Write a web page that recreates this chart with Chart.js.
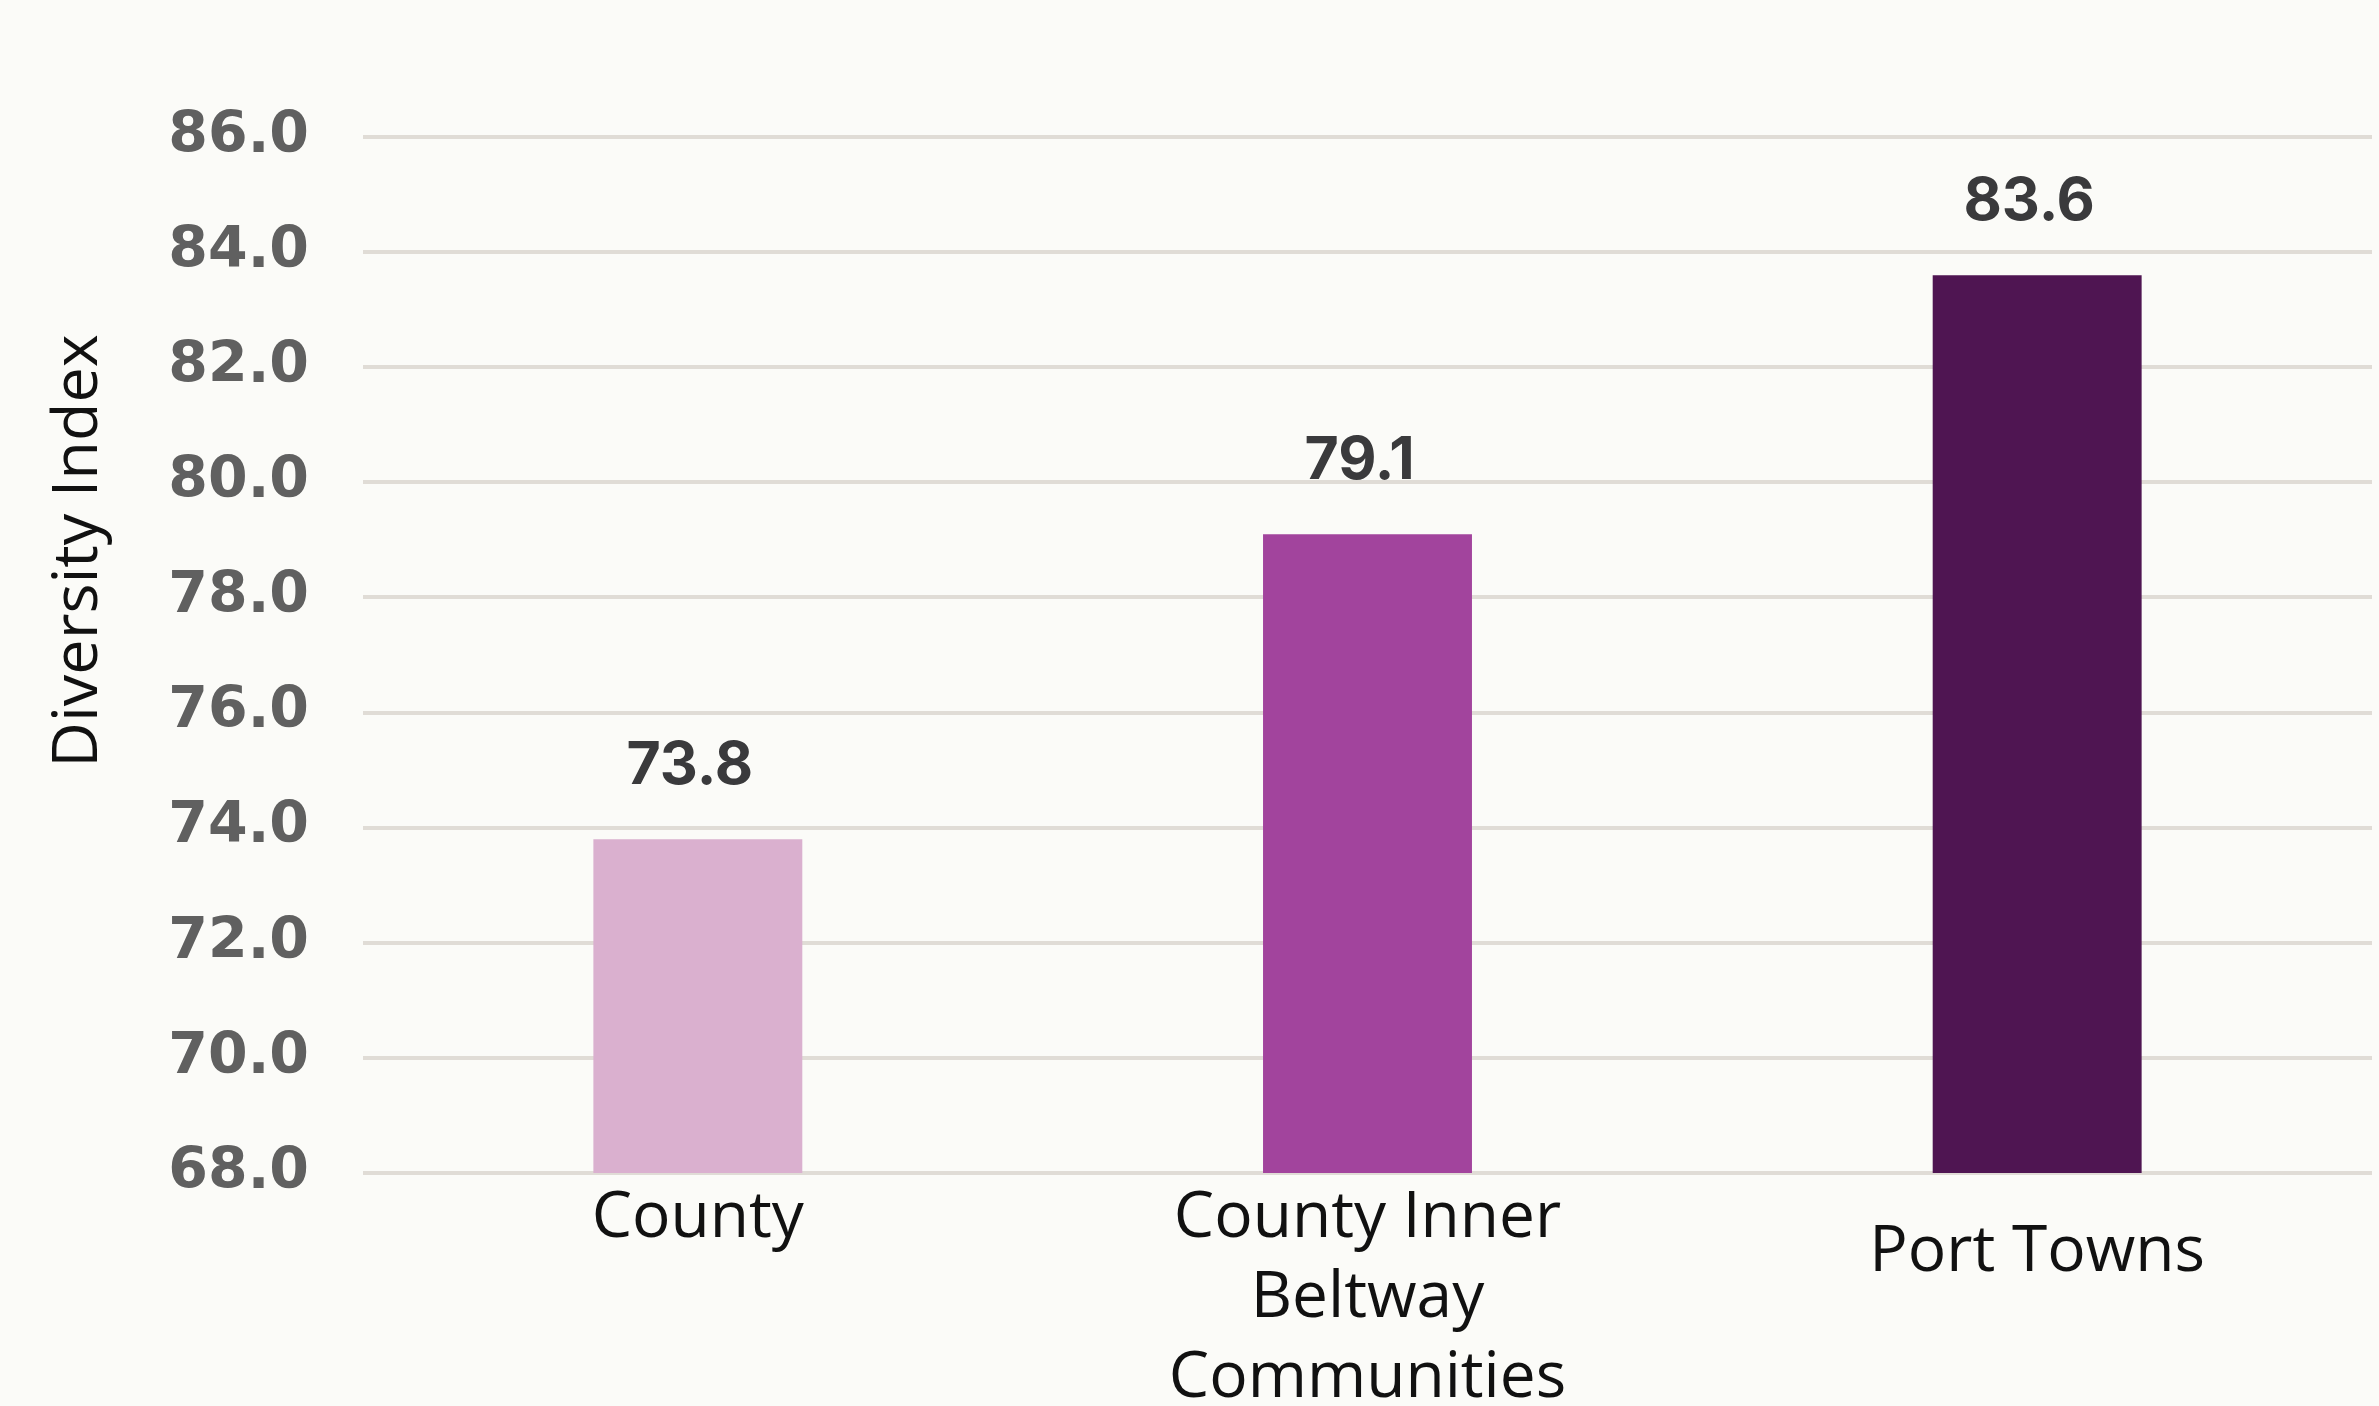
<!DOCTYPE html>
<html>
<head>
<meta charset="utf-8">
<script src="https://cdn.jsdelivr.net/npm/chart.js@4/dist/chart.umd.min.js"></script>
<style>
  html, body { margin: 0; padding: 0; background: #fbfbf8; overflow: hidden; }
  #chart { display: block; }
</style>
</head>
<body>
<canvas id="chart" width="2379" height="1406"></canvas>
<script>
// bar chart data
const categories = ["County", ["County Inner", "Beltway", "Communities"], "Port Towns"]
const diversityIndex = [73.8, 79.1, 83.6]
const barColors = ["#dab0cf", "#a2449d", "#4f1552"]

// y axis range and tick step
const yMin = 68
const yMax = 86
const yStep = 2
const yTitle = "Diversity Index"

// value labels above each bar
const valueLabels = {
    id: "valueLabels",
    afterDatasetsDraw(chart) {
        const ctx = chart.ctx
        const meta = chart.getDatasetMeta(0)
        ctx.save()
        ctx.font = "bold 59px Inter, 'DejaVu Sans', sans-serif"
        ctx.fillStyle = "#3a3a3c"
        ctx.textAlign = "center"
        ctx.textBaseline = "alphabetic"
        meta.data.forEach((bar, i) => {
            ctx.fillText(diversityIndex[i].toFixed(1), bar.x - 8, bar.y - 55)
        })
        ctx.restore()
    }
}

// rotated axis title on the left
const axisTitle = {
    id: "axisTitle",
    afterDraw(chart) {
        const ctx = chart.ctx
        ctx.save()
        ctx.translate(chart.scales.y.left + 97, 551)
        ctx.rotate(-Math.PI / 2)
        ctx.font = "63px 'Open Sans', sans-serif"
        ctx.fillStyle = "#111111"
        ctx.textAlign = "center"
        ctx.textBaseline = "alphabetic"
        ctx.fillText(yTitle, 0, 0)
        ctx.restore()
    }
}

const ctx = document.getElementById("chart").getContext("2d")
const chart = new Chart(ctx, {
    type: "bar",
    data: {
        labels: categories,
        datasets: [
            {
                label: yTitle,
                data: diversityIndex,
                backgroundColor: barColors,
                borderWidth: 0,
                barPercentage: 1,
                categoryPercentage: 0.312
            }
        ]
    },
    options: {
        responsive: false,
        devicePixelRatio: 1,
        animation: false,
        layout: { padding: { top: 137, right: 7, left: 0, bottom: 0 } },
        plugins: {
            legend: { display: false },
            tooltip: { enabled: false }
        },
        scales: {
            x: {
                grid: { display: false, drawTicks: false },
                border: { display: false },
                ticks: {
                    color: "#111111",
                    padding: 6,
                    maxRotation: 0,
                    autoSkip: false,
                    // Port Towns sits a little lower than the other labels
                    font: (c) => ({
                        family: "'Open Sans', sans-serif",
                        size: 64,
                        lineHeight: c.index === 2 ? "148px" : "80px"
                    })
                },
                afterFit: (s) => { s.height = 233 }
            },
            y: {
                min: yMin,
                max: yMax,
                grid: { color: "#e0dcd6", lineWidth: 4, drawTicks: false },
                border: { display: false },
                ticks: {
                    stepSize: yStep,
                    padding: 54,
                    color: "#606060",
                    font: { family: "'DejaVu Sans', sans-serif", size: 57, weight: "bold" },
                    callback: (v) => Number(v).toFixed(1)
                },
                afterFit: (s) => { s.width = 363 }
            }
        }
    },
    plugins: [valueLabels, axisTitle]
})
</script>
</body>
</html>
